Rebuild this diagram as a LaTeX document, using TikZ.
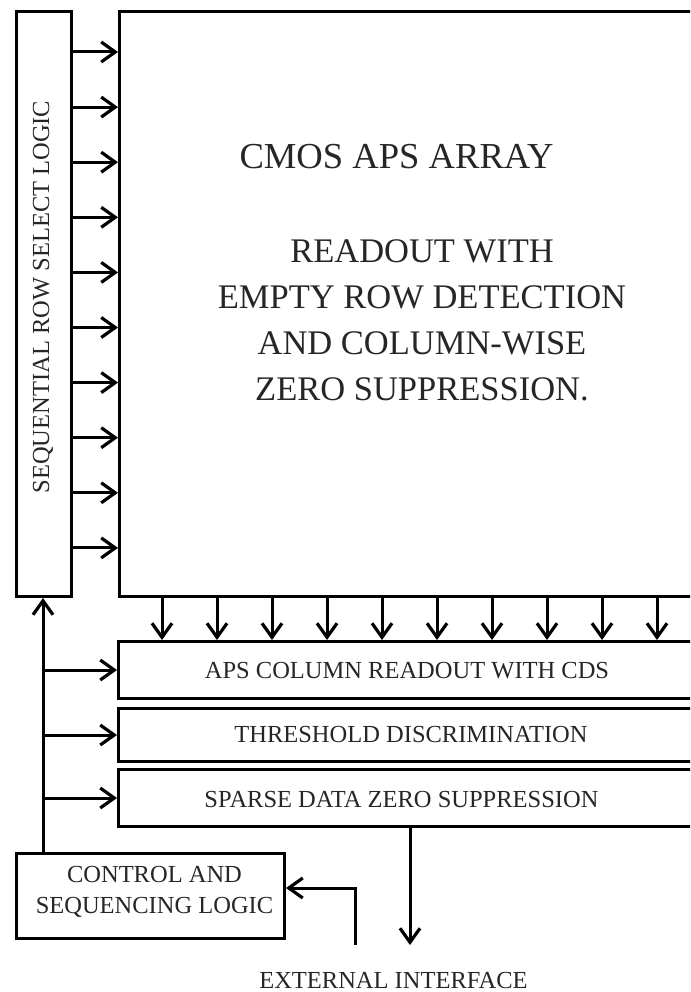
\documentclass[tikz,border=0pt]{standalone}
\usepackage{fontspec}
\setmainfont{Liberation Serif}
\usetikzlibrary{arrows.meta}
\begin{document}
\begin{tikzpicture}[x=1pt,y=-1pt,line width=3pt,
  box/.style={draw,rectangle,line width=3pt,inner sep=0pt,anchor=north west},
  arr/.style={-{Straight Barb[length=14pt,width=20pt,line width=3.2pt]}},
  lbl/.style={text=black!85,inner sep=0pt,anchor=base,font=\fontsize{24.5}{31}\selectfont},
  big/.style={text=black!85,inner sep=0pt,align=center,font=\fontsize{34.5}{46}\selectfont}]
\useasboundingbox (0,0) rectangle (690,992);
\clip (0,0) rectangle (690,992);
% blocks
\node[box,minimum width=55pt,minimum height=585pt] (rs) at (15,10) {};
\node[box,minimum width=620pt,minimum height=585pt] (array) at (118,10) {};
\node[box,minimum width=620pt,minimum height=57pt] (aps) at (117,640) {};
\node[box,minimum width=620pt,minimum height=53pt] (thr) at (117,707) {};
\node[box,minimum width=620pt,minimum height=57pt] (spa) at (117,768) {};
\node[box,minimum width=268pt,minimum height=85pt] (ctl) at (15,852) {};
% texts
\node[lbl,anchor=center,rotate=90] (rstext) at (43,297) {SEQUENTIAL ROW SELECT LOGIC};
\node[big,font=\fontsize{36.6}{46}\selectfont] (title) at (396.5,157) {CMOS APS ARRAY};
\node[big] (desc) at (422,320) {READOUT WITH\\EMPTY ROW DETECTION\\AND COLUMN-WISE\\ZERO SUPPRESSION.};
\node[lbl] (apstext) at (407,678) {APS COLUMN READOUT WITH CDS};
\node[lbl] (thrtext) at (411,742) {THRESHOLD DISCRIMINATION};
\node[lbl] (spatext) at (401.5,807) {SPARSE DATA ZERO SUPPRESSION};
\node[lbl,align=center,anchor=north] (ctltext) at (154.5,865) {CONTROL AND\\SEQUENCING LOGIC};
\node[lbl,text depth=0pt] (ext) at (393.5,988) {EXTERNAL INTERFACE};
\coordinate (extin) at (355,945);
\coordinate (extout) at (410,945);
% row select lines
\foreach \i in {0,...,9}
  \draw[arr] (rs.east |- 0,{52+55.1*\i}) -- (array.west |- 0,{52+55.1*\i});
% column readout lines
\foreach \i in {0,...,9}
  \draw[arr] (array.south -| {162+55*\i},0) -- (aps.north -| {162+55*\i},0);
% control bus
\draw[arr] (ctl.north -| 43,0) -- (rs.south -| 43,0);
\foreach \b in {aps,thr,spa}
  \draw[arr] (43,0 |- \b.west) -- (\b.west);
% external interface
\draw[arr] (extin) |- (ctl.east |- 0,888);
\draw[arr] (spa.south -| extout) -- (extout);
\end{tikzpicture}
\end{document}
